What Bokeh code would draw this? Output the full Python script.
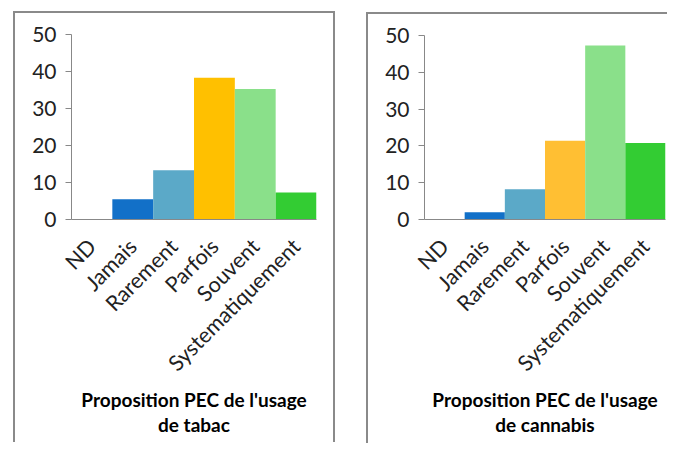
import math
from bokeh.plotting import figure
from bokeh.layouts import row
from bokeh.models import ColumnDataSource, FactorRange
from bokeh.embed import file_html
from bokeh.resources import INLINE

categories = ["ND", "Jamais", "Rarement", "Parfois", "Souvent", "Systematiquement"]
tabac_values = [0, 5.5, 13.3, 38.3, 35.3, 7.3]
cannabis_values = [0, 2.0, 8.2, 21.4, 47.3, 20.8]
tabac_colors = ["#1270C8", "#1270C8", "#5BA9C8", "#FFC000", "#8AE08A", "#33CC33"]
cannabis_colors = ["#1270C8", "#1270C8", "#5BA9C8", "#FFBF33", "#8AE08A", "#33CC33"]
y_ticks = [0, 10, 20, 30, 40, 50]
titles = ["Proposition PEC de l'usage\nde tabac", "Proposition PEC de l'usage\nde cannabis"]

FONT = "Lato"


def make_panel(values, colors, title, width, height, borders, frame_w, frame_h, margin, css):
    src = ColumnDataSource(dict(cat=categories, val=values, color=colors))
    p = figure(x_range=FactorRange(*categories, range_padding=0), y_range=(0, 50),
               width=width, height=height, output_backend="svg", toolbar_location=None,
               min_border_left=borders[0], min_border_right=borders[1],
               min_border_top=borders[2], min_border_bottom=borders[3],
               frame_width=frame_w, frame_height=frame_h)
    p.vbar(x="cat", top="val", width=1.0, color="color", line_color=None, source=src)
    p.outline_line_color = None
    p.grid.visible = False
    p.margin = margin
    p.styles = css

    p.yaxis.ticker = y_ticks
    p.yaxis.axis_line_color = "#888888"
    p.yaxis.major_tick_line_color = "#888888"
    p.yaxis.major_tick_out = 6
    p.yaxis.major_tick_in = 0
    p.yaxis.minor_tick_line_color = None
    p.yaxis.major_label_text_font = FONT
    p.yaxis.major_label_text_font_size = "21px"
    p.yaxis.major_label_text_color = "#222222"
    p.yaxis.major_label_standoff = 9

    p.xaxis.axis_line_color = "#888888"
    p.xaxis.major_tick_line_color = None
    p.xaxis.major_label_orientation = math.pi / 4
    p.xaxis.major_label_text_font = FONT
    p.xaxis.major_label_text_font_size = "21.5px"
    p.xaxis.major_label_text_color = "#222222"
    p.xaxis.major_label_standoff = 17
    p.xaxis.axis_label = title
    p.xaxis.axis_label_text_font = FONT
    p.xaxis.axis_label_text_font_style = "bold"
    p.xaxis.axis_label_text_font_size = "19px"
    p.xaxis.axis_label_text_line_height = 1.1
    p.xaxis.axis_label_text_color = "#000000"
    p.xaxis.axis_label_standoff = 0
    return p


BORDER = "2px solid #8a8a8a"
left = make_panel(tabac_values, tabac_colors, titles[0], 320, 440, (56, 21, 20, 226), 241, 183,
                  (11, 0, 0, 13),
                  {"border-left": BORDER, "border-top": BORDER, "border-right": BORDER})
right = make_panel(cannabis_values, cannabis_colors, titles[1], 299, 439, (56, 4, 21, 226), 239, 182,
                   (12, 0, 0, 31),
                   {"border-left": BORDER, "border-top": BORDER})

layout = row(left, right)
open("out.html", "w").write(file_html(layout, INLINE))
